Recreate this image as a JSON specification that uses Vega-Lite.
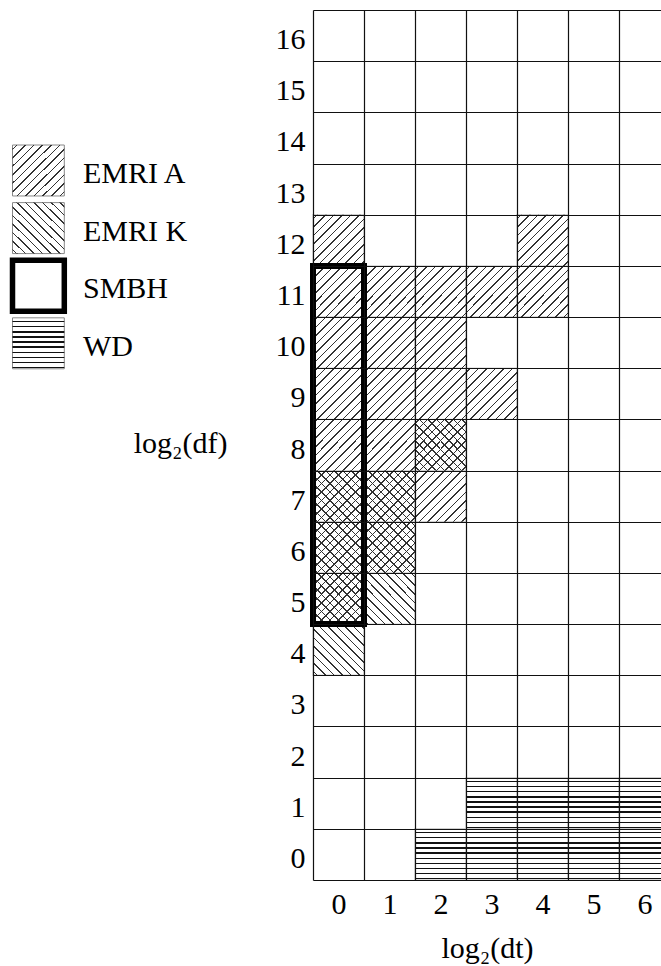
{
  "$schema": "https://vega.github.io/schema/vega-lite/v6.json",
  "width": 348,
  "height": 870,
  "autosize": {"type": "none"},
  "padding": {"left": 313, "top": 10, "right": 0, "bottom": 86},
  "background": "white",
  "config": {
    "font": "Liberation Serif",
    "view": {"stroke": null},
    "text": {"font": "Liberation Serif"}
  },
  "datasets": {
    "cells": [
      {"dt": 0, "df": 4, "emriA": false, "emriK": true, "smbh": false, "wd": false},
      {"dt": 0, "df": 5, "emriA": true, "emriK": true, "smbh": true, "wd": false},
      {"dt": 0, "df": 6, "emriA": true, "emriK": true, "smbh": true, "wd": false},
      {"dt": 0, "df": 7, "emriA": true, "emriK": true, "smbh": true, "wd": false},
      {"dt": 0, "df": 8, "emriA": true, "emriK": false, "smbh": true, "wd": false},
      {"dt": 0, "df": 9, "emriA": true, "emriK": false, "smbh": true, "wd": false},
      {"dt": 0, "df": 10, "emriA": true, "emriK": false, "smbh": true, "wd": false},
      {"dt": 0, "df": 11, "emriA": true, "emriK": false, "smbh": true, "wd": false},
      {"dt": 0, "df": 12, "emriA": true, "emriK": false, "smbh": false, "wd": false},
      {"dt": 1, "df": 5, "emriA": false, "emriK": true, "smbh": false, "wd": false},
      {"dt": 1, "df": 6, "emriA": true, "emriK": true, "smbh": false, "wd": false},
      {"dt": 1, "df": 7, "emriA": true, "emriK": true, "smbh": false, "wd": false},
      {"dt": 1, "df": 8, "emriA": true, "emriK": false, "smbh": false, "wd": false},
      {"dt": 1, "df": 9, "emriA": true, "emriK": false, "smbh": false, "wd": false},
      {"dt": 1, "df": 10, "emriA": true, "emriK": false, "smbh": false, "wd": false},
      {"dt": 1, "df": 11, "emriA": true, "emriK": false, "smbh": false, "wd": false},
      {"dt": 2, "df": 7, "emriA": true, "emriK": false, "smbh": false, "wd": false},
      {"dt": 2, "df": 8, "emriA": true, "emriK": true, "smbh": false, "wd": false},
      {"dt": 2, "df": 9, "emriA": true, "emriK": false, "smbh": false, "wd": false},
      {"dt": 2, "df": 10, "emriA": true, "emriK": false, "smbh": false, "wd": false},
      {"dt": 2, "df": 11, "emriA": true, "emriK": false, "smbh": false, "wd": false},
      {"dt": 3, "df": 9, "emriA": true, "emriK": false, "smbh": false, "wd": false},
      {"dt": 3, "df": 11, "emriA": true, "emriK": false, "smbh": false, "wd": false},
      {"dt": 4, "df": 11, "emriA": true, "emriK": false, "smbh": false, "wd": false},
      {"dt": 4, "df": 12, "emriA": true, "emriK": false, "smbh": false, "wd": false},
      {"dt": 2, "df": 0, "emriA": false, "emriK": false, "smbh": false, "wd": true},
      {"dt": 3, "df": 0, "emriA": false, "emriK": false, "smbh": false, "wd": true},
      {"dt": 4, "df": 0, "emriA": false, "emriK": false, "smbh": false, "wd": true},
      {"dt": 5, "df": 0, "emriA": false, "emriK": false, "smbh": false, "wd": true},
      {"dt": 6, "df": 0, "emriA": false, "emriK": false, "smbh": false, "wd": true},
      {"dt": 3, "df": 1, "emriA": false, "emriK": false, "smbh": false, "wd": true},
      {"dt": 4, "df": 1, "emriA": false, "emriK": false, "smbh": false, "wd": true},
      {"dt": 5, "df": 1, "emriA": false, "emriK": false, "smbh": false, "wd": true},
      {"dt": 6, "df": 1, "emriA": false, "emriK": false, "smbh": false, "wd": true}
    ],
    "legend": [
      {"label": "EMRI A", "kind": "A"},
      {"label": "EMRI K", "kind": "K"},
      {"label": "SMBH", "kind": "SMBH"},
      {"label": "WD", "kind": "WD"}
    ]
  },
  "layer": [
    {
      "data": {"name": "cells"},
      "encoding": {
        "x": {
          "field": "dt", "type": "ordinal",
          "scale": {"domain": [0, 1, 2, 3, 4, 5, 6], "range": [0, 357], "paddingInner": 0, "paddingOuter": 0},
          "axis": {
            "title": "log₂(dt)", "domain": false, "ticks": false, "tickSize": 0, "tickBand": "extent",
            "grid": true, "gridColor": "#111", "gridWidth": 1.2, "gridOpacity": 1,
            "labelAngle": 0, "labelFont": "Liberation Serif", "labelFontSize": 30, "labelColor": "black",
            "labelBaseline": "alphabetic", "labelPadding": 33,
            "titleFont": "Liberation Serif", "titleFontSize": 30, "titleFontWeight": "normal", "titleColor": "black",
            "titleX": 174, "titleY": 77, "titleAlign": "center", "titleBaseline": "alphabetic"
          }
        },
        "y": {
          "field": "df", "type": "ordinal",
          "scale": {"domain": [16, 15, 14, 13, 12, 11, 10, 9, 8, 7, 6, 5, 4, 3, 2, 1, 0], "range": [0, 870], "paddingInner": 0, "paddingOuter": 0},
          "axis": {
            "title": "log₂(df)", "domain": false, "ticks": false, "tickSize": 0, "tickBand": "extent",
            "grid": true, "gridColor": "#111", "gridWidth": 1.2, "gridOpacity": 1,
            "labelFont": "Liberation Serif", "labelFontSize": 30, "labelColor": "black",
            "labelAlign": "right", "labelBaseline": "alphabetic", "labelOffset": 13, "labelPadding": 8,
            "titleFont": "Liberation Serif", "titleFontSize": 30, "titleFontWeight": "normal", "titleColor": "black",
            "titleAngle": 0, "titleX": -133, "titleY": 442, "titleAlign": "center", "titleBaseline": "alphabetic"
          }
        }
      },
      "layer": [
        {
          "mark": {"type": "rect", "fill": "white", "stroke": "#cfcfcf", "strokeWidth": 1.4}
        },
        {
          "transform": [{"filter": "datum.emriA"}],
          "mark": {"type": "rect", "strokeWidth": 0, "fill": {
            "gradient": "linear", "x1": 0, "y1": 0, "x2": 1, "y2": 1,
            "stops": [
              {"offset": 0, "color": "rgba(255,255,255,0)"},
              {"offset": 0.0342, "color": "rgba(255,255,255,0)"}, {"offset": 0.0342, "color": "#333"}, {"offset": 0.0492, "color": "#333"}, {"offset": 0.0492, "color": "rgba(255,255,255,0)"},
              {"offset": 0.1175, "color": "rgba(255,255,255,0)"}, {"offset": 0.1175, "color": "#333"}, {"offset": 0.1325, "color": "#333"}, {"offset": 0.1325, "color": "rgba(255,255,255,0)"},
              {"offset": 0.2008, "color": "rgba(255,255,255,0)"}, {"offset": 0.2008, "color": "#333"}, {"offset": 0.2158, "color": "#333"}, {"offset": 0.2158, "color": "rgba(255,255,255,0)"},
              {"offset": 0.2842, "color": "rgba(255,255,255,0)"}, {"offset": 0.2842, "color": "#333"}, {"offset": 0.2992, "color": "#333"}, {"offset": 0.2992, "color": "rgba(255,255,255,0)"},
              {"offset": 0.3675, "color": "rgba(255,255,255,0)"}, {"offset": 0.3675, "color": "#333"}, {"offset": 0.3825, "color": "#333"}, {"offset": 0.3825, "color": "rgba(255,255,255,0)"},
              {"offset": 0.4508, "color": "rgba(255,255,255,0)"}, {"offset": 0.4508, "color": "#333"}, {"offset": 0.4658, "color": "#333"}, {"offset": 0.4658, "color": "rgba(255,255,255,0)"},
              {"offset": 0.5342, "color": "rgba(255,255,255,0)"}, {"offset": 0.5342, "color": "#333"}, {"offset": 0.5492, "color": "#333"}, {"offset": 0.5492, "color": "rgba(255,255,255,0)"},
              {"offset": 0.6175, "color": "rgba(255,255,255,0)"}, {"offset": 0.6175, "color": "#333"}, {"offset": 0.6325, "color": "#333"}, {"offset": 0.6325, "color": "rgba(255,255,255,0)"},
              {"offset": 0.7008, "color": "rgba(255,255,255,0)"}, {"offset": 0.7008, "color": "#333"}, {"offset": 0.7158, "color": "#333"}, {"offset": 0.7158, "color": "rgba(255,255,255,0)"},
              {"offset": 0.7842, "color": "rgba(255,255,255,0)"}, {"offset": 0.7842, "color": "#333"}, {"offset": 0.7992, "color": "#333"}, {"offset": 0.7992, "color": "rgba(255,255,255,0)"},
              {"offset": 0.8675, "color": "rgba(255,255,255,0)"}, {"offset": 0.8675, "color": "#333"}, {"offset": 0.8825, "color": "#333"}, {"offset": 0.8825, "color": "rgba(255,255,255,0)"},
              {"offset": 0.9508, "color": "rgba(255,255,255,0)"}, {"offset": 0.9508, "color": "#333"}, {"offset": 0.9658, "color": "#333"}, {"offset": 0.9658, "color": "rgba(255,255,255,0)"},
              {"offset": 1, "color": "rgba(255,255,255,0)"}
            ]
          }}
        },
        {
          "transform": [{"filter": "datum.emriK"}],
          "mark": {"type": "rect", "strokeWidth": 0, "fill": {
            "gradient": "linear", "x1": 0, "y1": 1, "x2": 1, "y2": 0,
            "stops": [
              {"offset": 0, "color": "rgba(255,255,255,0)"},
              {"offset": 0.0342, "color": "rgba(255,255,255,0)"}, {"offset": 0.0342, "color": "#333"}, {"offset": 0.0492, "color": "#333"}, {"offset": 0.0492, "color": "rgba(255,255,255,0)"},
              {"offset": 0.1175, "color": "rgba(255,255,255,0)"}, {"offset": 0.1175, "color": "#333"}, {"offset": 0.1325, "color": "#333"}, {"offset": 0.1325, "color": "rgba(255,255,255,0)"},
              {"offset": 0.2008, "color": "rgba(255,255,255,0)"}, {"offset": 0.2008, "color": "#333"}, {"offset": 0.2158, "color": "#333"}, {"offset": 0.2158, "color": "rgba(255,255,255,0)"},
              {"offset": 0.2842, "color": "rgba(255,255,255,0)"}, {"offset": 0.2842, "color": "#333"}, {"offset": 0.2992, "color": "#333"}, {"offset": 0.2992, "color": "rgba(255,255,255,0)"},
              {"offset": 0.3675, "color": "rgba(255,255,255,0)"}, {"offset": 0.3675, "color": "#333"}, {"offset": 0.3825, "color": "#333"}, {"offset": 0.3825, "color": "rgba(255,255,255,0)"},
              {"offset": 0.4508, "color": "rgba(255,255,255,0)"}, {"offset": 0.4508, "color": "#333"}, {"offset": 0.4658, "color": "#333"}, {"offset": 0.4658, "color": "rgba(255,255,255,0)"},
              {"offset": 0.5342, "color": "rgba(255,255,255,0)"}, {"offset": 0.5342, "color": "#333"}, {"offset": 0.5492, "color": "#333"}, {"offset": 0.5492, "color": "rgba(255,255,255,0)"},
              {"offset": 0.6175, "color": "rgba(255,255,255,0)"}, {"offset": 0.6175, "color": "#333"}, {"offset": 0.6325, "color": "#333"}, {"offset": 0.6325, "color": "rgba(255,255,255,0)"},
              {"offset": 0.7008, "color": "rgba(255,255,255,0)"}, {"offset": 0.7008, "color": "#333"}, {"offset": 0.7158, "color": "#333"}, {"offset": 0.7158, "color": "rgba(255,255,255,0)"},
              {"offset": 0.7842, "color": "rgba(255,255,255,0)"}, {"offset": 0.7842, "color": "#333"}, {"offset": 0.7992, "color": "#333"}, {"offset": 0.7992, "color": "rgba(255,255,255,0)"},
              {"offset": 0.8675, "color": "rgba(255,255,255,0)"}, {"offset": 0.8675, "color": "#333"}, {"offset": 0.8825, "color": "#333"}, {"offset": 0.8825, "color": "rgba(255,255,255,0)"},
              {"offset": 0.9508, "color": "rgba(255,255,255,0)"}, {"offset": 0.9508, "color": "#333"}, {"offset": 0.9658, "color": "#333"}, {"offset": 0.9658, "color": "rgba(255,255,255,0)"},
              {"offset": 1, "color": "rgba(255,255,255,0)"}
            ]
          }}
        },
        {
          "transform": [{"filter": "datum.wd"}],
          "mark": {"type": "rect", "strokeWidth": 0, "fill": {
            "gradient": "linear", "x1": 0, "y1": 0, "x2": 0, "y2": 1,
            "stops": [
              {"offset": 0, "color": "rgba(255,255,255,0)"},
              {"offset": 0.061, "color": "rgba(255,255,255,0)"}, {"offset": 0.061, "color": "#111"}, {"offset": 0.089, "color": "#111"}, {"offset": 0.089, "color": "rgba(255,255,255,0)"},
              {"offset": 0.161, "color": "rgba(255,255,255,0)"}, {"offset": 0.161, "color": "#111"}, {"offset": 0.189, "color": "#111"}, {"offset": 0.189, "color": "rgba(255,255,255,0)"},
              {"offset": 0.261, "color": "rgba(255,255,255,0)"}, {"offset": 0.261, "color": "#111"}, {"offset": 0.289, "color": "#111"}, {"offset": 0.289, "color": "rgba(255,255,255,0)"},
              {"offset": 0.361, "color": "rgba(255,255,255,0)"}, {"offset": 0.361, "color": "#111"}, {"offset": 0.389, "color": "#111"}, {"offset": 0.389, "color": "rgba(255,255,255,0)"},
              {"offset": 0.461, "color": "rgba(255,255,255,0)"}, {"offset": 0.461, "color": "#111"}, {"offset": 0.489, "color": "#111"}, {"offset": 0.489, "color": "rgba(255,255,255,0)"},
              {"offset": 0.561, "color": "rgba(255,255,255,0)"}, {"offset": 0.561, "color": "#111"}, {"offset": 0.589, "color": "#111"}, {"offset": 0.589, "color": "rgba(255,255,255,0)"},
              {"offset": 0.661, "color": "rgba(255,255,255,0)"}, {"offset": 0.661, "color": "#111"}, {"offset": 0.689, "color": "#111"}, {"offset": 0.689, "color": "rgba(255,255,255,0)"},
              {"offset": 0.761, "color": "rgba(255,255,255,0)"}, {"offset": 0.761, "color": "#111"}, {"offset": 0.789, "color": "#111"}, {"offset": 0.789, "color": "rgba(255,255,255,0)"},
              {"offset": 0.861, "color": "rgba(255,255,255,0)"}, {"offset": 0.861, "color": "#111"}, {"offset": 0.889, "color": "#111"}, {"offset": 0.889, "color": "rgba(255,255,255,0)"},
              {"offset": 0.961, "color": "rgba(255,255,255,0)"}, {"offset": 0.961, "color": "#111"}, {"offset": 0.989, "color": "#111"}, {"offset": 0.989, "color": "rgba(255,255,255,0)"},
              {"offset": 1, "color": "rgba(255,255,255,0)"}
            ]
          }}
        },
        {
          "transform": [
            {"filter": "datum.smbh"},
            {"aggregate": [{"op": "min", "field": "df", "as": "df_low"}, {"op": "max", "field": "df", "as": "df_high"}], "groupby": ["dt"]}
          ],
          "mark": {"type": "rect", "filled": false, "stroke": "black", "strokeWidth": 6},
          "encoding": {
            "y": {"field": "df_high", "type": "ordinal", "bandPosition": 0},
            "y2": {"field": "df_low", "bandPosition": 1}
          }
        }
      ]
    },
    {
      "data": {"name": "legend"},
      "encoding": {
        "x": {
          "datum": "box", "type": "nominal",
          "scale": {"domain": ["box"], "range": [-300.5, -248.7], "paddingInner": 0, "paddingOuter": 0},
          "axis": null
        },
        "y": {
          "field": "label", "type": "nominal", "sort": null,
          "scale": {"domain": ["EMRI A", "EMRI K", "SMBH", "WD"], "range": [135, 358.8], "paddingInner": 0.115, "paddingOuter": 0},
          "axis": null
        }
      },
      "layer": [
        {
          "transform": [{"filter": "datum.kind !== 'SMBH'"}],
          "mark": {"type": "rect", "fill": "white", "stroke": "#888", "strokeWidth": 1}
        },
        {
          "transform": [{"filter": "datum.kind === 'A'"}],
          "mark": {"type": "rect", "strokeWidth": 0, "fill": {
            "gradient": "linear", "x1": 0, "y1": 0, "x2": 1, "y2": 1,
            "stops": [
              {"offset": 0, "color": "rgba(255,255,255,0)"},
              {"offset": 0.0342, "color": "rgba(255,255,255,0)"}, {"offset": 0.0342, "color": "#333"}, {"offset": 0.0492, "color": "#333"}, {"offset": 0.0492, "color": "rgba(255,255,255,0)"},
              {"offset": 0.1175, "color": "rgba(255,255,255,0)"}, {"offset": 0.1175, "color": "#333"}, {"offset": 0.1325, "color": "#333"}, {"offset": 0.1325, "color": "rgba(255,255,255,0)"},
              {"offset": 0.2008, "color": "rgba(255,255,255,0)"}, {"offset": 0.2008, "color": "#333"}, {"offset": 0.2158, "color": "#333"}, {"offset": 0.2158, "color": "rgba(255,255,255,0)"},
              {"offset": 0.2842, "color": "rgba(255,255,255,0)"}, {"offset": 0.2842, "color": "#333"}, {"offset": 0.2992, "color": "#333"}, {"offset": 0.2992, "color": "rgba(255,255,255,0)"},
              {"offset": 0.3675, "color": "rgba(255,255,255,0)"}, {"offset": 0.3675, "color": "#333"}, {"offset": 0.3825, "color": "#333"}, {"offset": 0.3825, "color": "rgba(255,255,255,0)"},
              {"offset": 0.4508, "color": "rgba(255,255,255,0)"}, {"offset": 0.4508, "color": "#333"}, {"offset": 0.4658, "color": "#333"}, {"offset": 0.4658, "color": "rgba(255,255,255,0)"},
              {"offset": 0.5342, "color": "rgba(255,255,255,0)"}, {"offset": 0.5342, "color": "#333"}, {"offset": 0.5492, "color": "#333"}, {"offset": 0.5492, "color": "rgba(255,255,255,0)"},
              {"offset": 0.6175, "color": "rgba(255,255,255,0)"}, {"offset": 0.6175, "color": "#333"}, {"offset": 0.6325, "color": "#333"}, {"offset": 0.6325, "color": "rgba(255,255,255,0)"},
              {"offset": 0.7008, "color": "rgba(255,255,255,0)"}, {"offset": 0.7008, "color": "#333"}, {"offset": 0.7158, "color": "#333"}, {"offset": 0.7158, "color": "rgba(255,255,255,0)"},
              {"offset": 0.7842, "color": "rgba(255,255,255,0)"}, {"offset": 0.7842, "color": "#333"}, {"offset": 0.7992, "color": "#333"}, {"offset": 0.7992, "color": "rgba(255,255,255,0)"},
              {"offset": 0.8675, "color": "rgba(255,255,255,0)"}, {"offset": 0.8675, "color": "#333"}, {"offset": 0.8825, "color": "#333"}, {"offset": 0.8825, "color": "rgba(255,255,255,0)"},
              {"offset": 0.9508, "color": "rgba(255,255,255,0)"}, {"offset": 0.9508, "color": "#333"}, {"offset": 0.9658, "color": "#333"}, {"offset": 0.9658, "color": "rgba(255,255,255,0)"},
              {"offset": 1, "color": "rgba(255,255,255,0)"}
            ]
          }}
        },
        {
          "transform": [{"filter": "datum.kind === 'K'"}],
          "mark": {"type": "rect", "strokeWidth": 0, "fill": {
            "gradient": "linear", "x1": 0, "y1": 1, "x2": 1, "y2": 0,
            "stops": [
              {"offset": 0, "color": "rgba(255,255,255,0)"},
              {"offset": 0.0342, "color": "rgba(255,255,255,0)"}, {"offset": 0.0342, "color": "#333"}, {"offset": 0.0492, "color": "#333"}, {"offset": 0.0492, "color": "rgba(255,255,255,0)"},
              {"offset": 0.1175, "color": "rgba(255,255,255,0)"}, {"offset": 0.1175, "color": "#333"}, {"offset": 0.1325, "color": "#333"}, {"offset": 0.1325, "color": "rgba(255,255,255,0)"},
              {"offset": 0.2008, "color": "rgba(255,255,255,0)"}, {"offset": 0.2008, "color": "#333"}, {"offset": 0.2158, "color": "#333"}, {"offset": 0.2158, "color": "rgba(255,255,255,0)"},
              {"offset": 0.2842, "color": "rgba(255,255,255,0)"}, {"offset": 0.2842, "color": "#333"}, {"offset": 0.2992, "color": "#333"}, {"offset": 0.2992, "color": "rgba(255,255,255,0)"},
              {"offset": 0.3675, "color": "rgba(255,255,255,0)"}, {"offset": 0.3675, "color": "#333"}, {"offset": 0.3825, "color": "#333"}, {"offset": 0.3825, "color": "rgba(255,255,255,0)"},
              {"offset": 0.4508, "color": "rgba(255,255,255,0)"}, {"offset": 0.4508, "color": "#333"}, {"offset": 0.4658, "color": "#333"}, {"offset": 0.4658, "color": "rgba(255,255,255,0)"},
              {"offset": 0.5342, "color": "rgba(255,255,255,0)"}, {"offset": 0.5342, "color": "#333"}, {"offset": 0.5492, "color": "#333"}, {"offset": 0.5492, "color": "rgba(255,255,255,0)"},
              {"offset": 0.6175, "color": "rgba(255,255,255,0)"}, {"offset": 0.6175, "color": "#333"}, {"offset": 0.6325, "color": "#333"}, {"offset": 0.6325, "color": "rgba(255,255,255,0)"},
              {"offset": 0.7008, "color": "rgba(255,255,255,0)"}, {"offset": 0.7008, "color": "#333"}, {"offset": 0.7158, "color": "#333"}, {"offset": 0.7158, "color": "rgba(255,255,255,0)"},
              {"offset": 0.7842, "color": "rgba(255,255,255,0)"}, {"offset": 0.7842, "color": "#333"}, {"offset": 0.7992, "color": "#333"}, {"offset": 0.7992, "color": "rgba(255,255,255,0)"},
              {"offset": 0.8675, "color": "rgba(255,255,255,0)"}, {"offset": 0.8675, "color": "#333"}, {"offset": 0.8825, "color": "#333"}, {"offset": 0.8825, "color": "rgba(255,255,255,0)"},
              {"offset": 0.9508, "color": "rgba(255,255,255,0)"}, {"offset": 0.9508, "color": "#333"}, {"offset": 0.9658, "color": "#333"}, {"offset": 0.9658, "color": "rgba(255,255,255,0)"},
              {"offset": 1, "color": "rgba(255,255,255,0)"}
            ]
          }}
        },
        {
          "transform": [{"filter": "datum.kind === 'WD'"}],
          "mark": {"type": "rect", "strokeWidth": 0, "fill": {
            "gradient": "linear", "x1": 0, "y1": 0, "x2": 0, "y2": 1,
            "stops": [
              {"offset": 0, "color": "rgba(255,255,255,0)"},
              {"offset": 0.061, "color": "rgba(255,255,255,0)"}, {"offset": 0.061, "color": "#111"}, {"offset": 0.089, "color": "#111"}, {"offset": 0.089, "color": "rgba(255,255,255,0)"},
              {"offset": 0.161, "color": "rgba(255,255,255,0)"}, {"offset": 0.161, "color": "#111"}, {"offset": 0.189, "color": "#111"}, {"offset": 0.189, "color": "rgba(255,255,255,0)"},
              {"offset": 0.261, "color": "rgba(255,255,255,0)"}, {"offset": 0.261, "color": "#111"}, {"offset": 0.289, "color": "#111"}, {"offset": 0.289, "color": "rgba(255,255,255,0)"},
              {"offset": 0.361, "color": "rgba(255,255,255,0)"}, {"offset": 0.361, "color": "#111"}, {"offset": 0.389, "color": "#111"}, {"offset": 0.389, "color": "rgba(255,255,255,0)"},
              {"offset": 0.461, "color": "rgba(255,255,255,0)"}, {"offset": 0.461, "color": "#111"}, {"offset": 0.489, "color": "#111"}, {"offset": 0.489, "color": "rgba(255,255,255,0)"},
              {"offset": 0.561, "color": "rgba(255,255,255,0)"}, {"offset": 0.561, "color": "#111"}, {"offset": 0.589, "color": "#111"}, {"offset": 0.589, "color": "rgba(255,255,255,0)"},
              {"offset": 0.661, "color": "rgba(255,255,255,0)"}, {"offset": 0.661, "color": "#111"}, {"offset": 0.689, "color": "#111"}, {"offset": 0.689, "color": "rgba(255,255,255,0)"},
              {"offset": 0.761, "color": "rgba(255,255,255,0)"}, {"offset": 0.761, "color": "#111"}, {"offset": 0.789, "color": "#111"}, {"offset": 0.789, "color": "rgba(255,255,255,0)"},
              {"offset": 0.861, "color": "rgba(255,255,255,0)"}, {"offset": 0.861, "color": "#111"}, {"offset": 0.889, "color": "#111"}, {"offset": 0.889, "color": "rgba(255,255,255,0)"},
              {"offset": 0.961, "color": "rgba(255,255,255,0)"}, {"offset": 0.961, "color": "#111"}, {"offset": 0.989, "color": "#111"}, {"offset": 0.989, "color": "rgba(255,255,255,0)"},
              {"offset": 1, "color": "rgba(255,255,255,0)"}
            ]
          }}
        },
        {
          "transform": [{"filter": "datum.kind === 'SMBH'"}],
          "mark": {"type": "rect", "fill": "white", "stroke": "black", "strokeWidth": 5.5}
        },
        {
          "mark": {"type": "text", "align": "left", "baseline": "alphabetic", "dx": 44.6, "dy": 12.5, "font": "Liberation Serif", "fontSize": 30, "color": "black"},
          "encoding": {"text": {"field": "label"}}
        }
      ]
    }
  ],
  "resolve": {"scale": {"x": "independent", "y": "independent"}}
}
